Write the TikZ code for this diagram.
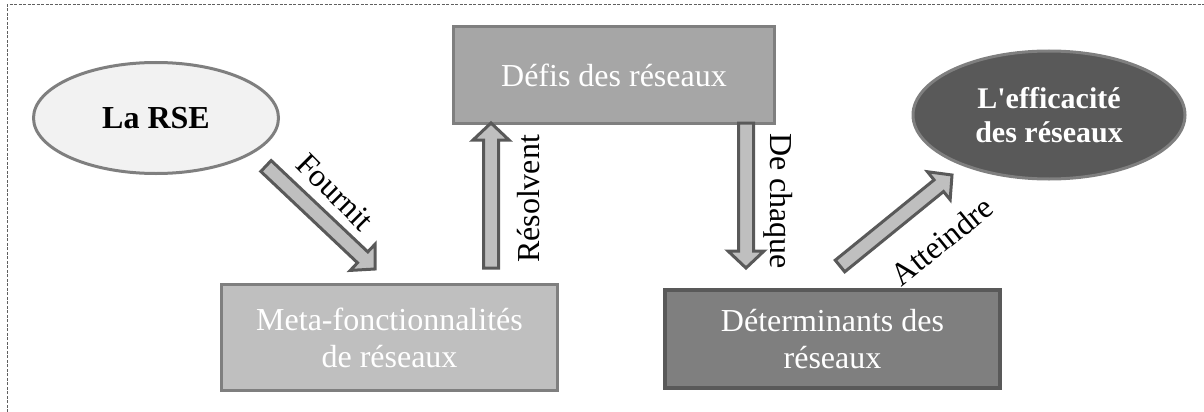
\documentclass[tikz,border=0pt]{standalone}
\usepackage{fontspec}
\setmainfont{Liberation Serif}
\usetikzlibrary{shapes.geometric,calc}
\definecolor{framec}{HTML}{606060}
\definecolor{rsefill}{HTML}{F2F2F2}
\definecolor{midgray}{HTML}{7F7F7F}
\definecolor{darkgray}{HTML}{595959}
\definecolor{defisfill}{HTML}{A6A6A6}
\definecolor{lightfill}{HTML}{BFBFBF}
\tikzset{
  boxnode/.style={rectangle, line width=3pt, inner sep=0pt, align=center, text=white,
    font=\fontsize{32}{37}\selectfont},
  ellnode/.style={ellipse, line width=3pt, inner sep=0pt, align=center,
    font=\fontsize{32}{37}\selectfont\bfseries},
  barrow/.style={fill=lightfill, draw=darkgray, line width=3pt, line join=miter, miter limit=10},
  lbl/.style={font=\fontsize{32}{37}\selectfont, inner sep=0pt},
}
\newcommand\blockarrow[2]{%
  \path ($(#2)!17pt!(#1)$) coordinate (bah);
  \filldraw[barrow] ($(#1)!7.5pt!90:(#2)$) -- ($(bah)!7.5pt!90:(#2)$) -- ($(bah)!18pt!90:(#2)$)
    -- (#2) -- ($(bah)!18pt!-90:(#2)$) -- ($(bah)!7.5pt!-90:(#2)$) -- ($(#1)!7.5pt!-90:(#2)$) -- cycle;}
\begin{document}
\begin{tikzpicture}[x=1pt,y=-1pt]
\useasboundingbox (0,0) rectangle (1204,412);
% frame
\coordinate (fbl) at (7,412);
\coordinate (ftl) at (7,5);
\coordinate (ftr) at (1204,5);
\draw[framec, line width=1pt, dash pattern=on 3pt off 1.5pt] (fbl) -- (ftl) -- (ftr);
% nodes
\node[ellnode, fill=rsefill, draw=midgray, minimum width=245pt, minimum height=111pt] (rse) at (156,118) {La RSE};
\node[ellnode, fill=darkgray, draw=midgray, text=white, minimum width=272pt, minimum height=128pt,
  font=\fontsize{30}{34}\selectfont\bfseries] (eff) at (1049,115) {L\textquotesingle efficacité\\des réseaux};
\node[boxnode, fill=defisfill, draw=midgray, minimum width=321pt, minimum height=97pt] (defis) at (614,75) {Défis des réseaux};
\node[boxnode, fill=lightfill, draw=midgray, minimum width=336pt, minimum height=106pt] (meta) at (389.5,337.5) {Meta-fonctionnalités\\de réseaux};
\node[boxnode, fill=midgray, draw=darkgray, line width=4pt, minimum width=335pt, minimum height=98pt] (det) at (832.5,339) {Déterminants des\\réseaux};
% arrows
\coordinate (a1s) at (266,166); \coordinate (a1e) at (375,269);
\coordinate (a2s) at (491,268); \coordinate (a2e) at (491,123);
\coordinate (a3s) at (746,123); \coordinate (a3e) at (746,268);
\coordinate (a4s) at (840,266); \coordinate (a4e) at (952,175);
\blockarrow{a1s}{a1e}
\blockarrow{a2s}{a2e}
\blockarrow{a3s}{a3e}
\blockarrow{a4s}{a4e}
% labels
\node[lbl, rotate=-45] (l1) at (335,192) {Fournit};
\node[lbl, rotate=90] (l2) at (529,199) {Résolvent};
\node[lbl, rotate=-90] (l3) at (778,201) {De chaque};
\node[lbl, rotate=39] (l4) at (942,241) {Atteindre};
\end{tikzpicture}
\end{document}
